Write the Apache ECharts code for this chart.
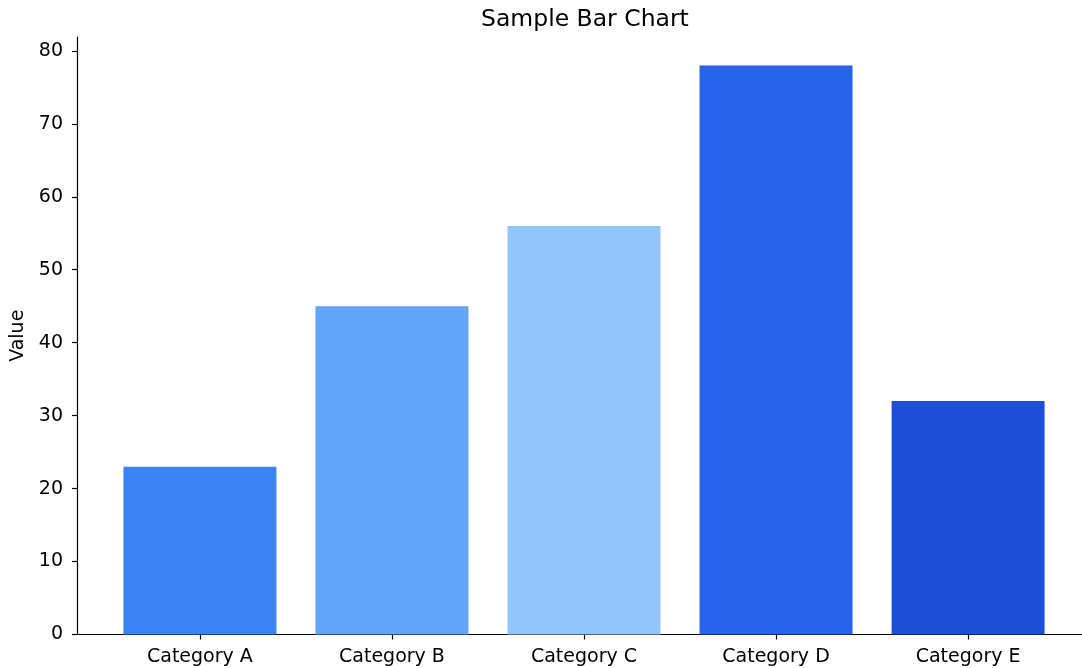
<!DOCTYPE html>
<html>
<head>
<meta charset="utf-8">
<script src="https://cdn.jsdelivr.net/npm/echarts@6/dist/echarts.min.js"></script>
<style>html,body{margin:0;padding:0;background:#fff}#c{width:1082px;height:668px}</style>
</head>
<body>
<div id="c"></div>
<script>
const categories = ['Category A', 'Category B', 'Category C', 'Category D', 'Category E'];
const values = [23, 45, 56, 78, 32];
const colors = ['#3b82f6', '#60a5fa', '#93c5fd', '#2563eb', '#1d4ed8'];
const yTicks = [0, 10, 20, 30, 40, 50, 60, 70, 80];
const xPositions = [0, 1, 2, 3, 4];

const chart = echarts.init(document.getElementById('c'), null, {renderer: 'canvas'});
const font = 'DejaVu Sans';
chart.setOption({
  animation: false,
  title: {
    text: 'Sample Bar Chart',
    left: 476, top: 3,
    textStyle: {fontFamily: font, fontSize: 23.5, fontWeight: 'normal', color: '#000'}
  },
  grid: {left: 77, top: 37, width: 1014, bottom: 33.5, containLabel: false, outerBoundsMode: 'none'},
  xAxis: {
    type: 'value', min: -0.64, max: 4.64,
    splitLine: {show: false},
    axisLine: {show: true, onZero: false, lineStyle: {color: '#000', width: 1.2}},
    axisTick: {show: true, customValues: xPositions, length: 5, lineStyle: {color: '#000', width: 1.2}},
    axisLabel: {
      customValues: xPositions, margin: 13, color: '#000', fontFamily: font, fontSize: 19,
      formatter: v => categories[Math.round(v)]
    }
  },
  yAxis: {
    type: 'value', min: 0, max: 81.9,
    name: 'Value', nameLocation: 'middle', nameGap: 46,
    nameTextStyle: {fontFamily: font, fontSize: 19, color: '#000'},
    splitLine: {show: false},
    axisLine: {show: true, onZero: false, lineStyle: {color: '#000', width: 1.2}},
    axisTick: {show: true, customValues: yTicks, length: 5, lineStyle: {color: '#000', width: 1.2}},
    axisLabel: {customValues: yTicks, margin: 14, padding: [3, 0, 0, 0], color: '#000', fontFamily: font, fontSize: 19}
  },
  series: [{
    type: 'bar',
    barWidth: 153,
    data: values.map((v, i) => ({value: [xPositions[i], v], itemStyle: {color: colors[i]}}))
  }]
});
</script>
</body>
</html>
